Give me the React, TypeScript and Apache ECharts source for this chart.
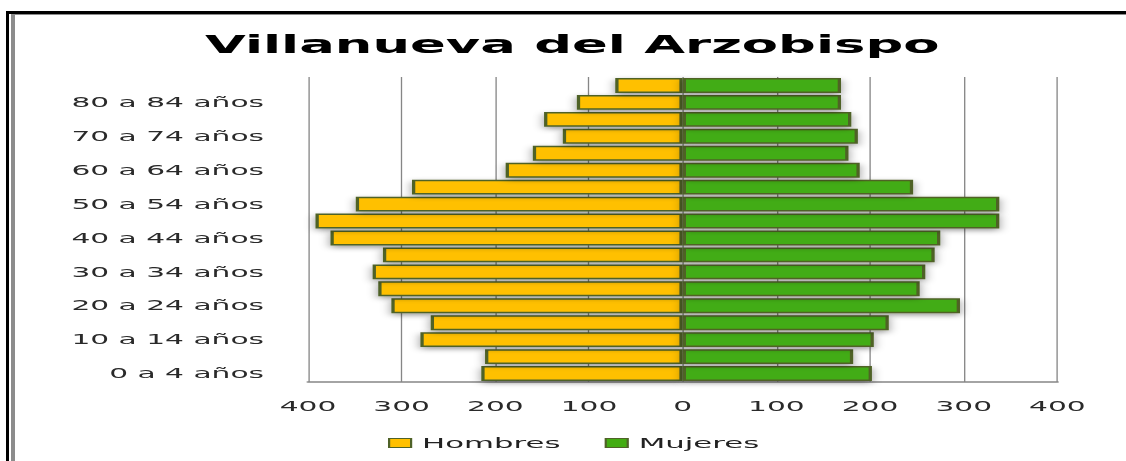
import React, { useEffect, useRef } from "react";
import * as echarts from "echarts";

const S = 2.2; // horizontal stretch of the original picture

const categories = [
  "0 a 4 años", "5 a 9 años", "10 a 14 años", "15 a 19 años", "20 a 24 años",
  "25 a 29 años", "30 a 34 años", "35 a 39 años", "40 a 44 años", "45 a 49 años",
  "50 a 54 años", "55 a 59 años", "60 a 64 años", "65 a 69 años", "70 a 74 años",
  "75 a 79 años", "80 a 84 años", "85 y más",
];
const hombres = [215, 211, 280, 269, 311, 325, 331, 320, 376, 392, 349, 289, 189, 160, 128, 148, 113, 72];
const mujeres = [202, 182, 204, 220, 296, 253, 259, 269, 275, 338, 338, 246, 189, 177, 187, 180, 169, 169];
const titleText = "Villanueva del Arzobispo";
const seriesNames = ["Hombres", "Mujeres"];

export default function App() {
  const ref = useRef<HTMLDivElement>(null);
  useEffect(() => {
    if (!ref.current) return;
    const chart = echarts.init(ref.current, null, { renderer: "svg" });
    const border = "#4F6228";
    const shadow = {
      shadowBlur: 5,
      shadowColor: "rgba(0,0,0,0.4)",
      shadowOffsetX: 0,
      shadowOffsetY: 2,
    };
    chart.setOption({
      animation: false,
      textStyle: { fontFamily: "DejaVu Sans" },
      title: {
        text: titleText,
        left: 194 / S,
        top: 28,
        textStyle: { fontFamily: "DejaVu Sans", fontWeight: "bold", fontSize: 24, color: "#000" },
      },
      legend: {
        data: seriesNames,
        icon: "rect",
        left: 377 / S,
        top: 431,
        itemWidth: 10,
        itemHeight: 9,
        itemGap: 20,
        textStyle: { fontSize: 14, color: "#222" },
        itemStyle: { borderWidth: 1, borderColor: border, shadowBlur: 0, shadowOffsetY: 0 },
      },
      grid: {
        left: 308 / S,
        right: (1126 - 1057) / S,
        top: 77,
        bottom: 461 - 382,
        containLabel: false,
      },
      xAxis: {
        type: "value",
        min: -400,
        max: 400,
        interval: 100,
        axisLine: { show: true, lineStyle: { color: "#868686", width: 1.5 } },
        axisTick: { show: false },
        axisLabel: {
          margin: 17,
          fontSize: 13.5,
          color: "#2a2a2a",
          formatter: (v: number) => String(Math.abs(v)),
        },
        splitLine: { show: true, lineStyle: { color: "#868686", width: 0.6 } },
      },
      yAxis: {
        type: "category",
        data: categories,
        axisLine: { show: false },
        axisTick: { show: false },
        axisLabel: { interval: 1, margin: 20, fontSize: 13.5, color: "#2a2a2a" },
        splitLine: { show: false },
      },
      series: [
        {
          name: seriesNames[0],
          type: "bar",
          stack: "total",
          barCategoryGap: "12%",
          data: hombres.map((v) => -v),
          itemStyle: { color: "#FFC000", borderColor: border, borderWidth: 1.5, ...shadow },
        },
        {
          name: seriesNames[1],
          type: "bar",
          stack: "total",
          barCategoryGap: "12%",
          data: mujeres,
          itemStyle: { color: "#43AC12", borderColor: border, borderWidth: 1.5, ...shadow },
        },
      ],
    });
    return () => chart.dispose();
  }, []);

  return (
    <div
      style={{
        position: "absolute",
        left: 0,
        top: 0,
        width: 1126,
        height: 461,
        overflow: "hidden",
        background: "#fff",
      }}
    >
      <div
        ref={ref}
        style={{
          position: "absolute",
          left: 0,
          top: 0,
          width: 1126 / S,
          height: 461,
          transform: `scaleX(${S})`,
          transformOrigin: "0 0",
        }}
      />
      <div style={{ position: "absolute", left: 6, top: 11, width: 3, height: 460, background: "#000" }} />
      <div style={{ position: "absolute", left: 6, top: 11, width: 1130, height: 3, background: "#000" }} />
      <div style={{ position: "absolute", left: 11, top: 14, width: 4, height: 460, background: "#8c8c8c" }} />
      <div style={{ position: "absolute", left: 11, top: 14, width: 1120, height: 1, background: "#8c8c8c" }} />
    </div>
  );
}
